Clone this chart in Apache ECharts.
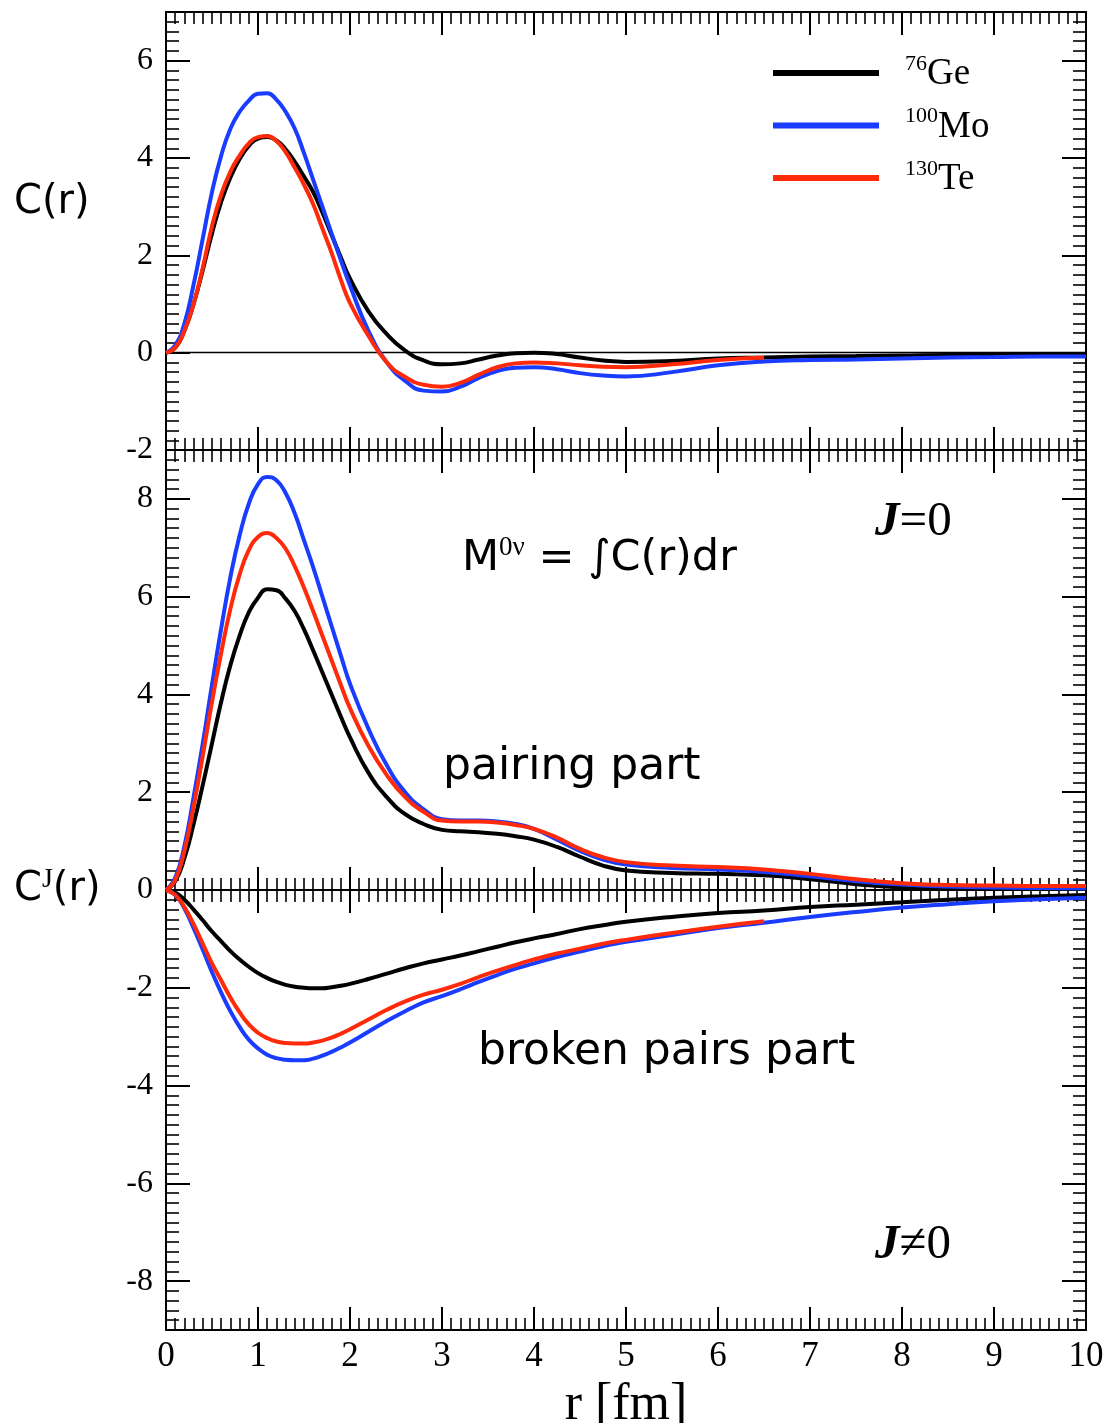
<!DOCTYPE html>
<html>
<head>
<meta charset="utf-8">
<script src="https://cdn.jsdelivr.net/npm/echarts@6/dist/echarts.min.js"></script>
<style>
  html, body { margin: 0; padding: 0; background: #fff; }
  #chart { width: 1112px; height: 1423px; }
</style>
</head>
<body>
<div id="chart"></div>
<script>
// radial distance r [fm]
const r = [0,0.1,0.2,0.3,0.4,0.5,0.6,0.7,0.8,0.9,1.0,1.1,1.2,1.3,1.4,1.5,1.6,1.7,1.8,1.9,2.0,
  2.2,2.4,2.6,2.8,3.0,3.2,3.4,3.6,3.8,4.0,
  4.25,4.5,4.75,5.0,5.5,6.0,6.5,7.0,7.5,8.0,8.5,9.0,9.5,10.0];

// isotopes
const isotopeMass = ['76', '100', '130'];
const isotopeSymbol = ['Ge', 'Mo', 'Te'];
const isotopeColor = ['#000000', '#1a3cff', '#ff2a0a'];

// upper panel: total C(r)
const geTotal = [0,0.1,0.45,1.0,1.7,2.45,3.1,3.6,3.98,4.25,4.4,4.43,4.36,4.18,3.92,3.62,3.3,2.88,2.42,1.96,1.52,
  0.85,0.38,0.04,-0.16,-0.24,-0.22,-0.14,-0.06,-0.01,0.0,
  -0.03,-0.1,-0.16,-0.19,-0.17,-0.12,-0.1,-0.08,-0.07,-0.06,-0.05,-0.05,-0.05,-0.05];
const moTotal = [0,0.15,0.6,1.4,2.35,3.3,4.05,4.6,4.95,5.18,5.32,5.33,5.2,4.95,4.6,4.1,3.55,3.0,2.45,1.9,1.38,
  0.45,-0.2,-0.58,-0.78,-0.8,-0.7,-0.52,-0.38,-0.31,-0.3,
  -0.34,-0.42,-0.47,-0.49,-0.4,-0.26,-0.18,-0.15,-0.14,-0.12,-0.1,-0.09,-0.08,-0.08];
const teTotal = [0,0.1,0.45,1.0,1.75,2.6,3.25,3.72,4.05,4.3,4.43,4.45,4.35,4.12,3.8,3.45,3.05,2.55,2.05,1.5,1.02,
  0.35,-0.2,-0.5,-0.66,-0.7,-0.62,-0.45,-0.3,-0.22,-0.2,
  -0.22,-0.26,-0.29,-0.3,-0.24,-0.15,-0.1];

// lower panel: J=0 pairing part
const gePairing = [0,0.18,0.65,1.35,2.15,3.0,3.85,4.6,5.2,5.68,5.98,6.15,6.13,5.96,5.7,5.33,4.9,4.45,4.0,3.55,3.12,
  2.4,1.9,1.55,1.35,1.23,1.2,1.18,1.15,1.1,1.03,
  0.88,0.68,0.5,0.4,0.35,0.33,0.3,0.22,0.12,0.05,0.03,0.02,0.02,0.02];
const moPairing = [0,0.25,0.9,1.9,3.0,4.2,5.35,6.4,7.25,7.9,8.3,8.45,8.38,8.12,7.7,7.15,6.6,6.0,5.4,4.8,4.22,
  3.3,2.55,2.0,1.65,1.45,1.42,1.42,1.4,1.35,1.25,
  1.03,0.8,0.62,0.52,0.45,0.42,0.37,0.28,0.18,0.11,0.07,0.05,0.04,0.03];
const tePairing = [0,0.2,0.8,1.7,2.75,3.85,4.85,5.75,6.45,6.95,7.22,7.3,7.2,6.98,6.62,6.18,5.7,5.2,4.7,4.2,3.72,
  2.95,2.35,1.9,1.6,1.42,1.4,1.4,1.38,1.33,1.25,
  1.07,0.84,0.67,0.57,0.5,0.47,0.42,0.33,0.22,0.14,0.1,0.09,0.08,0.08];

// lower panel: J!=0 broken pairs part
const geBroken = [0,-0.05,-0.2,-0.4,-0.62,-0.85,-1.05,-1.25,-1.42,-1.57,-1.7,-1.8,-1.88,-1.94,-1.98,-2.0,-2.01,-2.01,-1.99,-1.96,-1.92,
  -1.82,-1.71,-1.6,-1.5,-1.42,-1.34,-1.25,-1.16,-1.07,-0.99,
  -0.9,-0.8,-0.72,-0.65,-0.55,-0.47,-0.42,-0.35,-0.3,-0.25,-0.2,-0.16,-0.13,-0.1];
const moBroken = [0,-0.1,-0.38,-0.78,-1.22,-1.68,-2.1,-2.48,-2.8,-3.06,-3.24,-3.37,-3.44,-3.47,-3.48,-3.48,-3.45,-3.39,-3.31,-3.22,-3.12,
  -2.9,-2.68,-2.48,-2.3,-2.17,-2.03,-1.88,-1.74,-1.61,-1.5,
  -1.37,-1.26,-1.15,-1.06,-0.92,-0.78,-0.67,-0.55,-0.45,-0.36,-0.29,-0.23,-0.19,-0.16];
const teBroken = [0,-0.1,-0.35,-0.7,-1.1,-1.5,-1.85,-2.2,-2.5,-2.75,-2.92,-3.03,-3.1,-3.13,-3.14,-3.14,-3.12,-3.08,-3.02,-2.94,-2.85,
  -2.65,-2.45,-2.28,-2.14,-2.04,-1.92,-1.78,-1.65,-1.53,-1.42,
  -1.3,-1.2,-1.1,-1.02,-0.88,-0.75,-0.64];

// tick labels
const xTicks = [0,1,2,3,4,5,6,7,8,9,10];
const yTicksUpper = [-2,0,2,4,6];
const yTicksLower = [-8,-6,-4,-2,0,2,4,6,8];

const seriesNames = isotopeMass.map((m, i) => m + isotopeSymbol[i]);

const SERIF = '"Liberation Serif", "Times New Roman", serif';
const SANS = '"DejaVu Sans", "Noto Sans", sans-serif';
const BLACK = '#000';

const toPoints = ys => ys.map((y, i) => [r[i], y]);

function curve(idx, ys, xi, yi) {
  return {
    type: 'line',
    name: seriesNames[idx],
    xAxisIndex: xi,
    yAxisIndex: yi,
    data: toPoints(ys),
    symbol: 'none',
    showSymbol: false,
    smooth: 0.5,
    color: isotopeColor[idx],
    lineStyle: { width: 4, color: isotopeColor[idx] },
    z: 3 + idx
  };
}

// horizontal axis with major ticks every 1 and minor ticks every 0.1
function xAxisDef(grid, position, opts) {
  const o = opts || {};
  return {
    type: 'value',
    gridIndex: grid,
    position: position,
    min: 0, max: 10, interval: 1,
    axisLine: {
      show: o.line !== false,
      onZero: !!o.onZero,
      onZeroAxisIndex: o.onZeroAxisIndex,
      lineStyle: { color: BLACK, width: o.lineWidth || 2 }
    },
    axisTick: { show: o.ticks !== false, inside: o.inside !== false, length: 23, lineStyle: { color: BLACK, width: 2 } },
    minorTick: { show: o.ticks !== false, splitNumber: 10, length: 12, lineStyle: { color: BLACK, width: 1.6 } },
    axisLabel: o.labels ? {
      show: true, margin: 9, color: BLACK, fontFamily: SERIF, fontSize: 35,
      customValues: xTicks
    } : { show: false },
    splitLine: { show: false },
    name: o.name || '',
    nameLocation: 'middle',
    nameGap: 43,
    nameTextStyle: { fontFamily: SERIF, fontSize: 52, color: BLACK }
  };
}

// vertical axis, major ticks at given values
function yMajor(grid, position, min, max, ticks, labels) {
  return {
    type: 'value', gridIndex: grid, position: position, min: min, max: max,
    axisLine: { show: true, onZero: false, lineStyle: { color: BLACK, width: 2 } },
    axisTick: { show: true, inside: true, length: 24, customValues: ticks, lineStyle: { color: BLACK, width: 2 } },
    axisLabel: labels ? {
      show: true, margin: 13, color: BLACK, fontFamily: SERIF, fontSize: 32, customValues: ticks
    } : { show: false },
    splitLine: { show: false }
  };
}

// vertical axis, minor ticks every 0.2
function yMinor(grid, position, min, max) {
  return {
    type: 'value', gridIndex: grid, position: position, min: min, max: max, interval: 0.2,
    axisLine: { show: false, onZero: false },
    axisTick: { show: true, inside: true, length: 13, lineStyle: { color: BLACK, width: 1.6 } },
    axisLabel: { show: false },
    splitLine: { show: false }
  };
}

// text with a raised superscript: base tokens sit low in the line box, the superscript hugs its top
function supRich(baseFamily, baseSize, supSize, supH, lineH, baseH) {
  return {
    b: { fontFamily: baseFamily, fontSize: baseSize, lineHeight: baseH, verticalAlign: 'bottom', fill: BLACK, color: BLACK },
    s: { fontFamily: SERIF, fontSize: supSize, lineHeight: supH, verticalAlign: 'top', fill: BLACK, color: BLACK },
    z: { fontSize: 1, lineHeight: lineH, verticalAlign: 'top', fill: BLACK, color: BLACK }
  };
}

const chart = echarts.init(document.getElementById('chart'), null, { renderer: 'canvas' });

const legendRich = supRich(SERIF, 37, 22, 22, 40, 24);
legendRich.s.padding = [0, 0, 0, 21];

const option = {
  backgroundColor: '#ffffff',
  animation: false,
  grid: [
    { left: 166, right: 26, top: 12, height: 438, outerBoundsMode: 'none' },
    { left: 166, right: 26, top: 450, height: 880, outerBoundsMode: 'none' }
  ],
  xAxis: [
    xAxisDef(0, 'top'),
    xAxisDef(0, 'bottom'),
    xAxisDef(0, 'bottom', { onZero: true, onZeroAxisIndex: 0, ticks: false, lineWidth: 1.3 }),
    xAxisDef(1, 'top'),
    xAxisDef(1, 'bottom', { labels: true, name: 'r [fm]' }),
    xAxisDef(1, 'bottom', { onZero: true, onZeroAxisIndex: 4 }),
    xAxisDef(1, 'bottom', { onZero: true, onZeroAxisIndex: 4, inside: false })
  ],
  yAxis: [
    yMajor(0, 'left', -2, 7, yTicksUpper, true),
    yMinor(0, 'left', -2, 7),
    yMajor(0, 'right', -2, 7, yTicksUpper, false),
    yMinor(0, 'right', -2, 7),
    yMajor(1, 'left', -9, 9, yTicksLower, true),
    yMinor(1, 'left', -9, 9),
    yMajor(1, 'right', -9, 9, yTicksLower, false),
    yMinor(1, 'right', -9, 9)
  ],
  legend: {
    data: seriesNames,
    orient: 'vertical',
    left: 773,
    top: 53,
    padding: 0,
    itemGap: 12.5,
    itemWidth: 106,
    itemHeight: 6,
    icon: 'rect',
    selectedMode: false,
    formatter: name => {
      const i = seriesNames.indexOf(name);
      return '{s|' + isotopeMass[i] + '}{b|' + isotopeSymbol[i] + '}{z| }';
    },
    textStyle: { color: BLACK, rich: legendRich }
  },
  graphic: [
    {
      type: 'text', x: 14, y: 203, silent: true,
      style: { text: 'C(r)', fontFamily: SANS, fontSize: 40, fill: BLACK,
        textAlign: 'left', textVerticalAlign: 'middle', align: 'left', verticalAlign: 'middle' }
    },
    {
      type: 'text', x: 14, y: 888, silent: true,
      style: {
        text: '{b|C}{s|J}{b|(r)}{z| }', fill: BLACK,
        textAlign: 'left', textVerticalAlign: 'middle', align: 'left', verticalAlign: 'middle',
        rich: supRich(SANS, 40, 28, 32, 44, 44)
      }
    },
    {
      type: 'text', x: 462, y: 557, silent: true,
      style: {
        text: '{b|M}{s|0ν}{b| = ∫C(r)dr}{z| }', fill: BLACK,
        textAlign: 'left', textVerticalAlign: 'middle', align: 'left', verticalAlign: 'middle',
        rich: supRich(SANS, 43, 27, 33, 46, 46)
      }
    },
    {
      type: 'text', x: 443, y: 768, silent: true,
      style: { text: 'pairing part', fontFamily: SANS, fontSize: 44, fill: BLACK,
        textAlign: 'left', textVerticalAlign: 'middle', align: 'left', verticalAlign: 'middle' }
    },
    {
      type: 'text', x: 478, y: 1053, silent: true,
      style: { text: 'broken pairs part', fontFamily: SANS, fontSize: 44, fill: BLACK,
        textAlign: 'left', textVerticalAlign: 'middle', align: 'left', verticalAlign: 'middle' }
    },
    {
      type: 'text', x: 875, y: 522, silent: true,
      style: {
        text: '{j|J}{t|=0}', fill: BLACK,
        textAlign: 'left', textVerticalAlign: 'middle', align: 'left', verticalAlign: 'middle',
        rich: {
          j: { fontFamily: SERIF, fontSize: 49, fontWeight: 'bold', fontStyle: 'italic', fill: BLACK },
          t: { fontFamily: SERIF, fontSize: 49, fill: BLACK }
        }
      }
    },
    {
      type: 'text', x: 875, y: 1245, silent: true,
      style: {
        text: '{j|J}{t|≠0}', fill: BLACK,
        textAlign: 'left', textVerticalAlign: 'middle', align: 'left', verticalAlign: 'middle',
        rich: {
          j: { fontFamily: SERIF, fontSize: 49, fontWeight: 'bold', fontStyle: 'italic', fill: BLACK },
          t: { fontFamily: SERIF, fontSize: 49, fill: BLACK }
        }
      }
    }
  ],
  series: [
    curve(0, geTotal, 0, 0),
    curve(1, moTotal, 0, 0),
    curve(2, teTotal, 0, 0),
    curve(0, gePairing, 4, 4),
    curve(1, moPairing, 4, 4),
    curve(2, tePairing, 4, 4),
    curve(0, geBroken, 4, 4),
    curve(1, moBroken, 4, 4),
    curve(2, teBroken, 4, 4)
  ]
};

chart.setOption(option);
</script>
</body>
</html>
